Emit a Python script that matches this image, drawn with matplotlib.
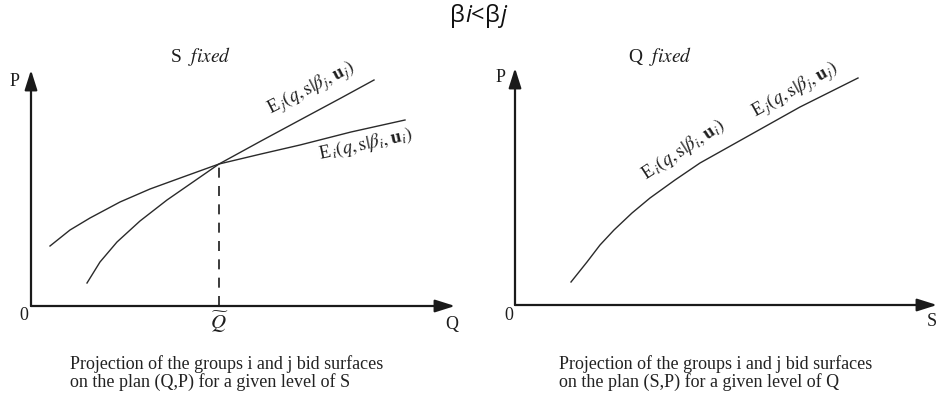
import numpy as np
import matplotlib
matplotlib.use("Agg")
import matplotlib.pyplot as plt
from matplotlib.offsetbox import TextArea, HPacker, AnchoredOffsetbox

plt.rcParams['font.family'] = ['Liberation Serif', 'DejaVu Serif']
plt.rcParams['mathtext.fontset'] = 'stix'

# ---- data (diagram units, origin at the axes' crossing) ----
# Left panel: S fixed, curves in the (Q,P) plane
q_i = [19, 39, 59, 89, 119, 152, 188, 230, 269, 320, 374]
p_i = [60, 76, 88, 104, 117, 129, 142, 152, 161, 174, 186]
q_j = [56, 69, 86, 109, 136, 162, 188, 230, 269, 310, 343]
p_j = [23, 44, 64, 85, 106, 124, 142, 165, 186, 208, 226]
q_tilde = 188
# Right panel: Q fixed, curve in the (S,P) plane
s_c = [56, 64, 72, 85, 99, 117, 135, 160, 185, 210, 235, 260, 285, 315, 343]
p_c = [23, 33, 43, 60, 75, 92, 107, 125, 142, 156, 170, 184, 198, 213, 227]

title_parts = [('β', 'normal'), ('i', 'italic'), ('<', 'normal'), ('β', 'normal'), ('j', 'italic')]
lab_j = r'E$_{\,j}(q,\mathrm{s}|\beta_{j},\mathbf{u}_{j})$'
lab_i = r'E$_{\,i}(q,\mathrm{s}|\beta_{i},\mathbf{u}_{i})$'
cap_left = "Projection of the groups i and j bid surfaces\non the plan (Q,P) for a given level of S"
cap_right = "Projection of the groups i and j bid surfaces\non the plan (S,P) for a given level of Q"

W, H = 939, 405
fig = plt.figure(figsize=(W / 100, H / 100), dpi=100)

# left axes: origin at pixel (31, 306)
axL = fig.add_axes([0, 0, 470 / W, 1])
axL.set_xlim(-31, 470 - 31)
axL.set_ylim(-(H - 306), 306)
# right axes: origin at pixel (515, 305)
axR = fig.add_axes([470 / W, 0, 469 / W, 1])
axR.set_xlim(-(515 - 470), 939 - 515)
axR.set_ylim(-(H - 305), 305)
for ax in (axL, axR):
    ax.axis('off')

ap = dict(arrowstyle='-|>,head_length=1.2,head_width=0.38', color='#1a1a1a',
          lw=1.6, shrinkA=0, shrinkB=0)
# axes arrows
axL.annotate('', xy=(0, 236), xytext=(0, 0), arrowprops=ap)
axL.annotate('', xy=(424, 0), xytext=(0, 0), arrowprops=ap)
axR.annotate('', xy=(0, 237), xytext=(0, 0), arrowprops=ap)
axR.annotate('', xy=(422, 0), xytext=(0, 0), arrowprops=ap)

lc = '#2a2a2a'
axL.plot(q_i, p_i, color=lc, lw=1.0)
axL.plot(q_j, p_j, color=lc, lw=1.0)
axL.plot([q_tilde, q_tilde], [0, p_i[6]], color='#1a1a1a', lw=1.2,
         dashes=(6, 5))
axR.plot(s_c, p_c, color=lc, lw=1.0)

fs = 13
tc = '#1e1e1e'
# axis labels
axL.text(-16, 225, 'P', fontsize=fs, ha='center', va='center', color=tc)
axL.text(-7, -10, '0', fontsize=fs, ha='center', va='center', color=tc)
axL.text(421, -19, 'Q', fontsize=fs, ha='center', va='center', color=tc)
axL.text(q_tilde, -16, r'$\widetilde{Q}$', fontsize=fs + 2, ha='center', va='center', color=tc)
axR.text(-14, 228, 'P', fontsize=fs, ha='center', va='center', color=tc)
axR.text(-6, -10, '0', fontsize=fs, ha='center', va='center', color=tc)
axR.text(417, -17, 'S', fontsize=fs, ha='center', va='center', color=tc)

# panel titles
axL.text(201 - 31, 306 - 57, r'S  $\mathit{fixed}$', fontsize=14, ha='center', va='center', color=tc)
axR.text(660 - 515, 305 - 57, r'Q  $\mathit{fixed}$', fontsize=14, ha='center', va='center', color=tc)

# curve labels
lfs = 13.5
axL.text(311 - 31, 306 - 89, lab_j, fontsize=lfs, rotation=27,
         rotation_mode='anchor', ha='center', va='center', color=tc)
axL.text(366 - 31, 306 - 144, lab_i, fontsize=lfs, rotation=12,
         rotation_mode='anchor', ha='center', va='center', color=tc)
axR.text(683 - 515, 305 - 150, lab_i, fontsize=lfs, rotation=33,
         rotation_mode='anchor', ha='center', va='center', color=tc)
axR.text(795 - 515, 305 - 90, lab_j, fontsize=lfs, rotation=29,
         rotation_mode='anchor', ha='center', va='center', color=tc)

# captions
axL.text(70 - 31, 306 - 373, cap_left, fontsize=13, ha='left', va='center',
         linespacing=0.98, color='#222222')
axR.text(559 - 515, 305 - 373, cap_right, fontsize=13, ha='left', va='center',
         linespacing=0.98, color='#222222')

# top title with italic subscripts
boxes = [TextArea(t, textprops=dict(fontsize=17, style=st, color='#111111',
                                    family=['Open Sans', 'DejaVu Sans']))
         for t, st in title_parts]
pack = HPacker(children=boxes, align='baseline', pad=0, sep=0)
anch = AnchoredOffsetbox(loc='center', child=pack, frameon=False,
                         bbox_to_anchor=(478 / W, 1 - 16 / H),
                         bbox_transform=fig.transFigure, pad=0, borderpad=0)
fig.add_artist(anch)

fig.savefig('out.png', dpi=100)
